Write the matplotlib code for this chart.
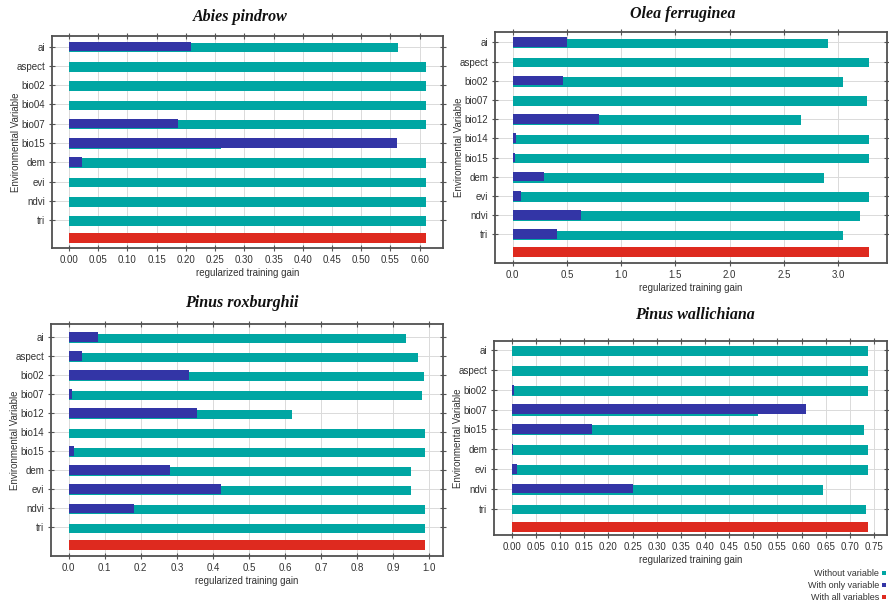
import matplotlib
matplotlib.use("Agg")
import matplotlib.pyplot as plt
from matplotlib.patches import Rectangle
from matplotlib.ticker import FormatStrFormatter
import numpy as np

plt.rcParams['font.family'] = ['Liberation Sans', 'DejaVu Sans']

TEAL = '#00A6A3'
BLUE = '#3335A6'
RED = '#DE2A1F'

# Abies pindrow
abies_vars = ['ai', 'aspect', 'bio02', 'bio04', 'bio07', 'bio15', 'dem', 'evi', 'ndvi', 'tri']
abies_without = [0.563, 0.611, 0.611, 0.611, 0.611, 0.261, 0.611, 0.611, 0.611, 0.611]
abies_only = [0.209, 0.0, 0.0, 0.0, 0.187, 0.562, 0.022, 0.0, 0.0, 0.0]
abies_all = 0.611

# Olea ferruginea
olea_vars = ['ai', 'aspect', 'bio02', 'bio07', 'bio12', 'bio14', 'bio15', 'dem', 'evi', 'ndvi', 'tri']
olea_without = [2.91, 3.28, 3.04, 3.27, 2.66, 3.28, 3.28, 2.87, 3.28, 3.20, 3.04]
olea_only = [0.50, 0.0, 0.46, 0.005, 0.80, 0.03, 0.018, 0.29, 0.073, 0.633, 0.41]
olea_all = 3.28

# Pinus roxburghii
rox_vars = ['ai', 'aspect', 'bio02', 'bio07', 'bio12', 'bio14', 'bio15', 'dem', 'evi', 'ndvi', 'tri']
rox_without = [0.935, 0.970, 0.986, 0.980, 0.620, 0.988, 0.988, 0.950, 0.950, 0.988, 0.988]
rox_only = [0.080, 0.038, 0.334, 0.010, 0.357, 0.0, 0.014, 0.280, 0.422, 0.182, 0.0]
rox_all = 0.988

# Pinus wallichiana
wal_vars = ['ai', 'aspect', 'bio02', 'bio07', 'bio15', 'dem', 'evi', 'ndvi', 'tri']
wal_without = [0.738, 0.738, 0.738, 0.509, 0.729, 0.738, 0.738, 0.644, 0.734]
wal_only = [0.0, 0.0, 0.004, 0.610, 0.167, 0.003, 0.010, 0.251, 0.0]
wal_all = 0.738

W, H = 889, 607
fig = plt.figure(figsize=(W / 100, H / 100), dpi=100)


def px_axes(left, right, top, bottom):
    return fig.add_axes([left / W, (H - bottom) / H, (right - left) / W, (bottom - top) / H])


def panel(ax, names, without, only, allv, xlim, ylim, ticks, fmt, title, title_xy):
    n = len(names)
    idx = np.arange(n)
    ax.barh(idx + 0.05, without, height=0.5, color=TEAL, zorder=3, linewidth=0)
    ax.barh(idx - 0.01, only, height=0.5, color=BLUE, zorder=4, linewidth=0)
    ax.barh([n - 0.08], [allv], height=0.5, color=RED, zorder=3, linewidth=0)
    ax.set_xlim(*xlim)
    ax.set_ylim(ylim[1], ylim[0])
    ax.set_xticks(ticks)
    ax.xaxis.set_major_formatter(FormatStrFormatter(fmt))
    ax.set_yticks(idx)
    ax.set_yticklabels(names)
    ax.grid(True, color='#dadada', linewidth=0.7, zorder=0)
    ax.set_axisbelow(True)
    ax.tick_params(axis='both', which='both', direction='inout', length=4, width=0.8,
                   colors='#555555', labelcolor='#333333', labelsize=7,
                   top=True, right=True, pad=3)
    for s in ax.spines.values():
        s.set_color('#505050')
        s.set_linewidth(1.3)
    ax.set_xlabel('regularized training gain', fontsize=7, color='#333333', labelpad=2)
    ax.set_ylabel('Environmental Variable', fontsize=7, color='#333333')
    ax.yaxis.set_label_coords(-0.08, 0.5)
    fig.text(title_xy[0] / W, 1 - title_xy[1] / H, title, fontsize=11.5,
             family=['Liberation Serif', 'DejaVu Serif'], style='italic', weight='bold',
             ha='center', va='center', color='#111111')


ax1 = px_axes(52, 443, 36, 248)
panel(ax1, abies_vars, abies_without, abies_only, abies_all,
      (-0.029, 0.64), (-0.55, 10.45), np.arange(0, 0.601, 0.05), '%.2f',
      'Abies pindrow', (240, 17))

ax2 = px_axes(495, 887, 32, 263)
panel(ax2, olea_vars, olea_without, olea_only, olea_all,
      (-0.162, 3.45), (-0.54, 11.49), np.arange(0, 3.01, 0.5), '%.1f',
      'Olea ferruginea', (683, 14))

ax3 = px_axes(51, 443, 324, 556)
panel(ax3, rox_vars, rox_without, rox_only, rox_all,
      (-0.049, 1.038), (-0.7, 11.5), np.arange(0, 1.01, 0.1), '%.1f',
      'Pinus roxburghii', (242, 303))

ax4 = px_axes(494, 887, 341, 535)
panel(ax4, wal_vars, wal_without, wal_only, wal_all,
      (-0.037, 0.777), (-0.47, 9.34), np.arange(0, 0.751, 0.05), '%.2f',
      'Pinus wallichiana', (695, 315))

# legend in the lower-right corner
legend_items = [('Without variable', TEAL), ('With only variable', BLUE), ('With all variables', RED)]
for i, (label, col) in enumerate(legend_items):
    y = 573 + i * 12
    fig.text(879 / W, 1 - y / H, label, fontsize=6.5, color='#333333', ha='right', va='center')
    fig.add_artist(Rectangle(((882) / W, 1 - (y + 2) / H), 4 / W, 4 / H,
                             transform=fig.transFigure, color=col, linewidth=0))

fig.savefig('out.png', dpi=100)
